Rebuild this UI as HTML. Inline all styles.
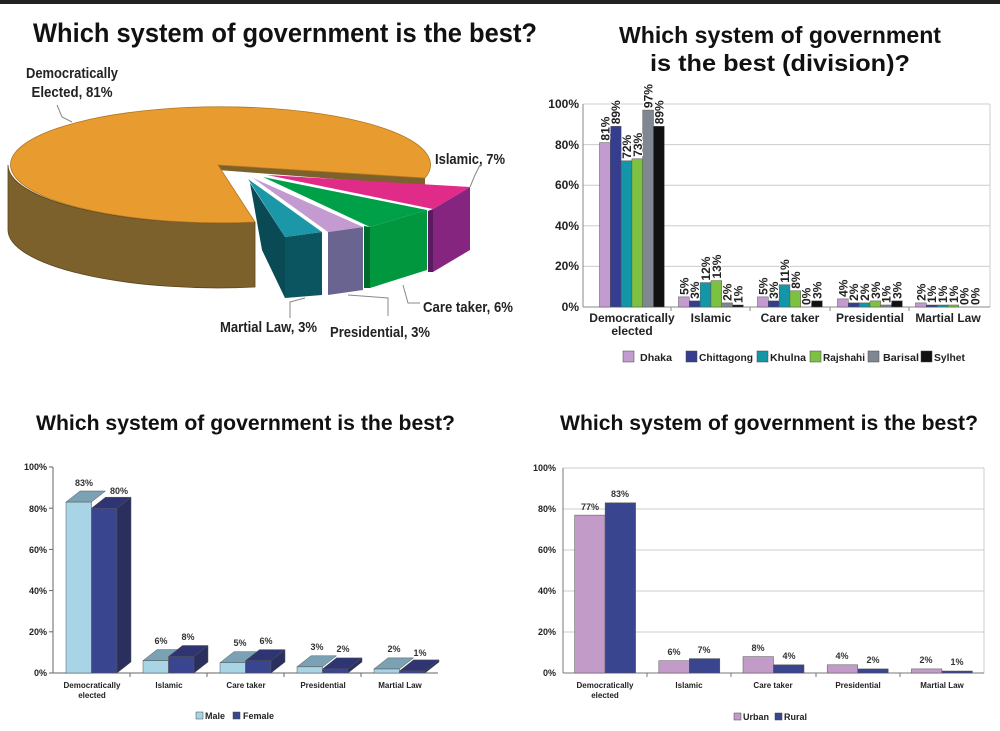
<!DOCTYPE html>
<html><head><meta charset="utf-8"><style>
html,body{margin:0;padding:0;background:#fff;}
svg{display:block;font-family:"Liberation Sans",Arial,sans-serif;font-weight:bold;}
</style></head><body>
<svg width="1000" height="731" viewBox="0 0 1000 731" xmlns="http://www.w3.org/2000/svg">
<rect x="0" y="0" width="1000" height="4" fill="#222"/>
<!-- Titles -->
<text x="33" y="42" font-size="27" textLength="504" lengthAdjust="spacingAndGlyphs" fill="#111">Which system of government is the best?</text>
<text x="780" y="43" font-size="23" text-anchor="middle" textLength="322" lengthAdjust="spacingAndGlyphs" fill="#111">Which system of government</text>
<text x="780" y="71" font-size="23" text-anchor="middle" textLength="260" lengthAdjust="spacingAndGlyphs" fill="#111">is the best (division)?</text>
<text x="36" y="430" font-size="21" textLength="419" lengthAdjust="spacingAndGlyphs" fill="#111">Which system of government is the best?</text>
<text x="560" y="430" font-size="21" textLength="418" lengthAdjust="spacingAndGlyphs" fill="#111">Which system of government is the best?</text>

<!-- PIE -->
<path d="M8,165 L8,230 A210,58 0 0,0 255,287 L255,222 A210,58 0 0,1 8,165 Z" fill="#7c612c" stroke="#5a4520" stroke-width="0.8"/>
<path d="M218,165 L425,178 L425,186 L218,170 Z" fill="#7c612c"/>
<path d="M218,165 L425,178 A210,58 0 1,0 255,222 Z" fill="#e89c30" stroke="#b07520" stroke-width="0.8"/>
<!-- Islamic -->
<polygon points="433,209 470,187 470,250 433,272" fill="#862580"/>
<polygon points="428,211 433,209 433,272 428,272" fill="#5a1a60"/>
<polygon points="267,175 470,187 433,209" fill="#e02c88"/>
<!-- Care taker -->
<polygon points="370,227 427,210 427,270 370,288" fill="#00973f"/>
<polygon points="364,226 370,227 370,288 364,288" fill="#006a2c"/>
<polygon points="263,177 427,210 370,227" fill="#00a048"/>
<!-- Presidential -->
<polygon points="328,232 363,227 363,290 328,295" fill="#6a6590"/>
<polygon points="253,178 363,227 328,232" fill="#c39bd0"/>
<!-- Martial -->
<polygon points="250,183 285,237 285,298 262,250" fill="#0a4a55"/>
<polygon points="285,237 322,232 322,295 285,298" fill="#0b5560"/>
<polygon points="248,179 322,232 285,237" fill="#1b97a8"/>
<!-- leader lines -->
<g stroke="#888" fill="none" stroke-width="1">
<polyline points="57,105 62,117 72,122"/>
<polyline points="470,187 475,175 480,165"/>
<polyline points="403,285 408,303 420,303"/>
<polyline points="348,295 388,298 388,316"/>
<polyline points="305,298 290,302 290,318"/>
</g>
<g font-size="15" fill="#222">
<text x="72" y="78" text-anchor="middle" textLength="92" lengthAdjust="spacingAndGlyphs">Democratically</text>
<text x="72" y="97" text-anchor="middle" textLength="81" lengthAdjust="spacingAndGlyphs">Elected, 81%</text>
<text x="435" y="164" textLength="70" lengthAdjust="spacingAndGlyphs">Islamic, 7%</text>
<text x="423" y="312" textLength="90" lengthAdjust="spacingAndGlyphs">Care taker, 6%</text>
<text x="220" y="332" textLength="97" lengthAdjust="spacingAndGlyphs">Martial Law, 3%</text>
<text x="330" y="337" textLength="100" lengthAdjust="spacingAndGlyphs">Presidential, 3%</text>
</g>

<!-- TOP RIGHT BAR -->
<g stroke="#ccc" stroke-width="1">
<line x1="583" y1="266.4" x2="990" y2="266.4"/><line x1="583" y1="225.8" x2="990" y2="225.8"/>
<line x1="583" y1="185.2" x2="990" y2="185.2"/><line x1="583" y1="144.6" x2="990" y2="144.6"/>
<line x1="583" y1="104" x2="990" y2="104"/><line x1="990" y1="104" x2="990" y2="307"/>
</g>
<line x1="583" y1="104" x2="583" y2="307" stroke="#888"/>
<line x1="583" y1="307" x2="990" y2="307" stroke="#888"/>
<g stroke="#888"><line x1="671" y1="307" x2="671" y2="311"/><line x1="750" y1="307" x2="750" y2="311"/><line x1="830" y1="307" x2="830" y2="311"/><line x1="909" y1="307" x2="909" y2="311"/></g>
<g font-size="12" fill="#222" text-anchor="end">
<text x="579" y="311">0%</text><text x="579" y="270">20%</text><text x="579" y="230">40%</text>
<text x="579" y="189">60%</text><text x="579" y="149">80%</text><text x="579" y="108">100%</text>
</g>
<g stroke="#555" stroke-width="0.5">
<rect x="599.5" y="142.6" width="10.8" height="164.4" fill="#c39bd0"/>
<rect x="610.3" y="126.3" width="10.8" height="180.7" fill="#363d8f"/>
<rect x="621.1" y="160.8" width="10.8" height="146.2" fill="#1396a8"/>
<rect x="631.9" y="158.8" width="10.8" height="148.2" fill="#7dc142"/>
<rect x="642.7" y="110.1" width="10.8" height="196.9" fill="#7f8890"/>
<rect x="653.5" y="126.3" width="10.8" height="180.7" fill="#111"/>
<rect x="678.5" y="296.9" width="10.8" height="10.1" fill="#c39bd0"/>
<rect x="689.3" y="300.9" width="10.8" height="6.1" fill="#363d8f"/>
<rect x="700.1" y="282.6" width="10.8" height="24.4" fill="#1396a8"/>
<rect x="710.9" y="280.6" width="10.8" height="26.4" fill="#7dc142"/>
<rect x="721.7" y="302.9" width="10.8" height="4.1" fill="#7f8890"/>
<rect x="732.5" y="305" width="10.8" height="2" fill="#111"/>
<rect x="757.5" y="296.9" width="10.8" height="10.1" fill="#c39bd0"/>
<rect x="768.3" y="300.9" width="10.8" height="6.1" fill="#363d8f"/>
<rect x="779.1" y="284.7" width="10.8" height="22.3" fill="#1396a8"/>
<rect x="789.9" y="290.8" width="10.8" height="16.2" fill="#7dc142"/>
<rect x="811.5" y="300.9" width="10.8" height="6.1" fill="#111"/>
<rect x="837.5" y="298.9" width="10.8" height="8.1" fill="#c39bd0"/>
<rect x="848.3" y="302.9" width="10.8" height="4.1" fill="#363d8f"/>
<rect x="859.1" y="302.9" width="10.8" height="4.1" fill="#1396a8"/>
<rect x="869.9" y="300.9" width="10.8" height="6.1" fill="#7dc142"/>
<rect x="880.7" y="305" width="10.8" height="2" fill="#7f8890"/>
<rect x="891.5" y="300.9" width="10.8" height="6.1" fill="#111"/>
<rect x="915.5" y="302.9" width="10.8" height="4.1" fill="#c39bd0"/>
<rect x="926.3" y="305" width="10.8" height="2" fill="#363d8f"/>
<rect x="937.1" y="305" width="10.8" height="2" fill="#1396a8"/>
<rect x="947.9" y="305" width="10.8" height="2" fill="#7dc142"/>
</g>
<g font-size="12" fill="#222" stroke="#fff" stroke-width="2" paint-order="stroke">
<text transform="translate(609.4,140.6) rotate(-90)">81%</text>
<text transform="translate(620.2,124.3) rotate(-90)">89%</text>
<text transform="translate(631,158.8) rotate(-90)">72%</text>
<text transform="translate(641.8,156.8) rotate(-90)">73%</text>
<text transform="translate(652.6,108.1) rotate(-90)">97%</text>
<text transform="translate(663.4,124.3) rotate(-90)">89%</text>
<text transform="translate(688.4,294.9) rotate(-90)">5%</text>
<text transform="translate(699.2,298.9) rotate(-90)">3%</text>
<text transform="translate(710,280.6) rotate(-90)">12%</text>
<text transform="translate(720.8,278.6) rotate(-90)">13%</text>
<text transform="translate(731.6,300.9) rotate(-90)">2%</text>
<text transform="translate(742.4,303) rotate(-90)">1%</text>
<text transform="translate(767.4,294.9) rotate(-90)">5%</text>
<text transform="translate(778.2,298.9) rotate(-90)">3%</text>
<text transform="translate(789,282.7) rotate(-90)">11%</text>
<text transform="translate(799.8,288.8) rotate(-90)">8%</text>
<text transform="translate(810.6,305) rotate(-90)">0%</text>
<text transform="translate(821.4,298.9) rotate(-90)">3%</text>
<text transform="translate(847.4,296.9) rotate(-90)">4%</text>
<text transform="translate(858.2,300.9) rotate(-90)">2%</text>
<text transform="translate(869,300.9) rotate(-90)">2%</text>
<text transform="translate(879.8,298.9) rotate(-90)">3%</text>
<text transform="translate(890.6,303) rotate(-90)">1%</text>
<text transform="translate(901.4,298.9) rotate(-90)">3%</text>
<text transform="translate(925.4,300.9) rotate(-90)">2%</text>
<text transform="translate(936.2,303) rotate(-90)">1%</text>
<text transform="translate(947,303) rotate(-90)">1%</text>
<text transform="translate(957.8,303) rotate(-90)">1%</text>
<text transform="translate(968.6,305) rotate(-90)">0%</text>
<text transform="translate(979.4,305) rotate(-90)">0%</text>
</g>
<g font-size="12" fill="#222" text-anchor="middle">
<text x="632" y="322">Democratically</text><text x="632" y="335">elected</text>
<text x="711" y="322">Islamic</text><text x="790" y="322">Care taker</text>
<text x="870" y="322">Presidential</text><text x="948" y="322">Martial Law</text>
</g>
<g font-size="10.5" fill="#222" stroke="#444" stroke-width="0.5">
<rect x="623" y="351" width="11" height="11" fill="#c39bd0"/><text x="640" y="361" stroke="none" textLength="32" lengthAdjust="spacingAndGlyphs">Dhaka</text>
<rect x="686" y="351" width="11" height="11" fill="#363d8f"/><text x="699" y="361" stroke="none" textLength="54" lengthAdjust="spacingAndGlyphs">Chittagong</text>
<rect x="757" y="351" width="11" height="11" fill="#1396a8"/><text x="770" y="361" stroke="none" textLength="36" lengthAdjust="spacingAndGlyphs">Khulna</text>
<rect x="810" y="351" width="11" height="11" fill="#7dc142"/><text x="823" y="361" stroke="none" textLength="42" lengthAdjust="spacingAndGlyphs">Rajshahi</text>
<rect x="868" y="351" width="11" height="11" fill="#7f8890"/><text x="883" y="361" stroke="none" textLength="36" lengthAdjust="spacingAndGlyphs">Barisal</text>
<rect x="921" y="351" width="11" height="11" fill="#111"/><text x="934" y="361" stroke="none" textLength="31" lengthAdjust="spacingAndGlyphs">Sylhet</text>
</g>

<!-- BOTTOM LEFT 3D -->
<line x1="53" y1="467" x2="53" y2="673" stroke="#666"/>
<line x1="53" y1="673" x2="438" y2="673" stroke="#666"/>
<g stroke="#666"><line x1="49" y1="673" x2="53" y2="673"/><line x1="49" y1="631.8" x2="53" y2="631.8"/><line x1="49" y1="590.6" x2="53" y2="590.6"/><line x1="49" y1="549.4" x2="53" y2="549.4"/><line x1="49" y1="508.2" x2="53" y2="508.2"/><line x1="49" y1="467" x2="53" y2="467"/>
<line x1="130" y1="673" x2="130" y2="677"/><line x1="207" y1="673" x2="207" y2="677"/><line x1="284" y1="673" x2="284" y2="677"/><line x1="361" y1="673" x2="361" y2="677"/></g>
<g font-size="9" fill="#222" text-anchor="end">
<text x="47" y="676">0%</text><text x="47" y="635">20%</text><text x="47" y="594">40%</text><text x="47" y="553">60%</text><text x="47" y="512">80%</text><text x="47" y="470">100%</text>
</g>
<g stroke="#555" stroke-width="0.5">
<rect x="66" y="502" width="25.5" height="171" fill="#a8d4e6"/>
<polygon points="66,502 80,491 105.5,491 91.5,502" fill="#7aa2b4"/>
<rect x="91.5" y="508.2" width="25.5" height="164.8" fill="#3a4590"/>
<polygon points="91.5,508.2 105.5,497.2 131,497.2 117,508.2" fill="#2e3572"/>
<polygon points="117,508.2 131,497.2 131,662 117,673" fill="#2a2f5e"/>
<rect x="143" y="660.6" width="25.5" height="12.4" fill="#a8d4e6"/>
<polygon points="143,660.6 157,649.6 182.5,649.6 168.5,660.6" fill="#7aa2b4"/>
<rect x="168.5" y="656.5" width="25.5" height="16.5" fill="#3a4590"/>
<polygon points="168.5,656.5 182.5,645.5 208,645.5 194,656.5" fill="#2e3572"/>
<polygon points="194,656.5 208,645.5 208,662 194,673" fill="#2a2f5e"/>
<rect x="220" y="662.7" width="25.5" height="10.3" fill="#a8d4e6"/>
<polygon points="220,662.7 234,651.7 259.5,651.7 245.5,662.7" fill="#7aa2b4"/>
<rect x="245.5" y="660.6" width="25.5" height="12.4" fill="#3a4590"/>
<polygon points="245.5,660.6 259.5,649.6 285,649.6 271,660.6" fill="#2e3572"/>
<polygon points="271,660.6 285,649.6 285,662 271,673" fill="#2a2f5e"/>
<rect x="297" y="666.8" width="25.5" height="6.2" fill="#a8d4e6"/>
<polygon points="297,666.8 311,655.8 336.5,655.8 322.5,666.8" fill="#7aa2b4"/>
<rect x="322.5" y="668.9" width="25.5" height="4.1" fill="#3a4590"/>
<polygon points="322.5,668.9 336.5,657.9 362,657.9 348,668.9" fill="#2e3572"/>
<polygon points="348,668.9 362,657.9 362,662 348,673" fill="#2a2f5e"/>
<rect x="374" y="668.9" width="25.5" height="4.1" fill="#a8d4e6"/>
<polygon points="374,668.9 388,657.9 413.5,657.9 399.5,668.9" fill="#7aa2b4"/>
<rect x="399.5" y="670.9" width="25.5" height="2.1" fill="#3a4590"/>
<polygon points="399.5,670.9 413.5,659.9 439,659.9 425,670.9" fill="#2e3572"/>
<polygon points="425,670.9 439,659.9 439,662 425,673" fill="#2a2f5e"/>
</g>
<g font-size="9" fill="#333" text-anchor="middle">
<text x="84" y="486">83%</text><text x="119" y="494">80%</text>
<text x="161" y="644">6%</text><text x="188" y="640">8%</text>
<text x="240" y="646">5%</text><text x="266" y="644">6%</text>
<text x="317" y="650">3%</text><text x="343" y="652">2%</text>
<text x="394" y="652">2%</text><text x="420" y="656">1%</text>
</g>
<g font-size="8" fill="#222" text-anchor="middle">
<text x="92" y="688">Democratically</text><text x="92" y="698">elected</text>
<text x="169" y="688">Islamic</text><text x="246" y="688">Care taker</text>
<text x="323" y="688">Presidential</text><text x="400" y="688">Martial Law</text>
</g>
<g font-size="9" fill="#222" stroke="#444" stroke-width="0.5">
<rect x="196" y="712" width="7" height="7" fill="#a8d4e6"/><text x="205" y="719" stroke="none">Male</text>
<rect x="233" y="712" width="7" height="7" fill="#3a4590"/><text x="243" y="719" stroke="none">Female</text>
</g>

<!-- BOTTOM RIGHT -->
<g stroke="#ccc"><line x1="563" y1="632" x2="984" y2="632"/><line x1="563" y1="591" x2="984" y2="591"/><line x1="563" y1="550" x2="984" y2="550"/><line x1="563" y1="509" x2="984" y2="509"/><line x1="563" y1="468" x2="984" y2="468"/><line x1="984" y1="468" x2="984" y2="673"/></g>
<line x1="563" y1="468" x2="563" y2="673" stroke="#777"/>
<line x1="563" y1="673" x2="984" y2="673" stroke="#777"/>
<g stroke="#777"><line x1="647" y1="673" x2="647" y2="677"/><line x1="731" y1="673" x2="731" y2="677"/><line x1="816" y1="673" x2="816" y2="677"/><line x1="900" y1="673" x2="900" y2="677"/></g>
<g font-size="9" fill="#222" text-anchor="end">
<text x="556" y="676">0%</text><text x="556" y="635">20%</text><text x="556" y="594">40%</text><text x="556" y="553">60%</text><text x="556" y="512">80%</text><text x="556" y="471">100%</text>
</g>
<g stroke="#555" stroke-width="0.5">
<rect x="574.6" y="515.1" width="30.5" height="157.9" fill="#c39bc8"/>
<rect x="605.1" y="502.8" width="30.5" height="170.2" fill="#3a4590"/>
<rect x="658.8" y="660.7" width="30.5" height="12.3" fill="#c39bc8"/>
<rect x="689.3" y="658.6" width="30.5" height="14.4" fill="#3a4590"/>
<rect x="743" y="656.6" width="30.5" height="16.4" fill="#c39bc8"/>
<rect x="773.5" y="664.8" width="30.5" height="8.2" fill="#3a4590"/>
<rect x="827.2" y="664.8" width="30.5" height="8.2" fill="#c39bc8"/>
<rect x="857.7" y="668.9" width="30.5" height="4.1" fill="#3a4590"/>
<rect x="911.4" y="668.9" width="30.5" height="4.1" fill="#c39bc8"/>
<rect x="941.9" y="671" width="30.5" height="2" fill="#3a4590"/>
</g>
<g font-size="9" fill="#333" text-anchor="middle">
<text x="590" y="510">77%</text><text x="620" y="497">83%</text>
<text x="674" y="655">6%</text><text x="704" y="653">7%</text>
<text x="758" y="651">8%</text><text x="789" y="659">4%</text>
<text x="842" y="659">4%</text><text x="873" y="663">2%</text>
<text x="926" y="663">2%</text><text x="957" y="665">1%</text>
</g>
<g font-size="8" fill="#222" text-anchor="middle">
<text x="605" y="688">Democratically</text><text x="605" y="698">elected</text>
<text x="689" y="688">Islamic</text><text x="773" y="688">Care taker</text>
<text x="858" y="688">Presidential</text><text x="942" y="688">Martial Law</text>
</g>
<g font-size="9" fill="#222" stroke="#444" stroke-width="0.5">
<rect x="734" y="713" width="7" height="7" fill="#c39bc8"/><text x="743" y="720" stroke="none">Urban</text>
<rect x="775" y="713" width="7" height="7" fill="#3a4590"/><text x="784" y="720" stroke="none">Rural</text>
</g>
</svg>
</body></html>
